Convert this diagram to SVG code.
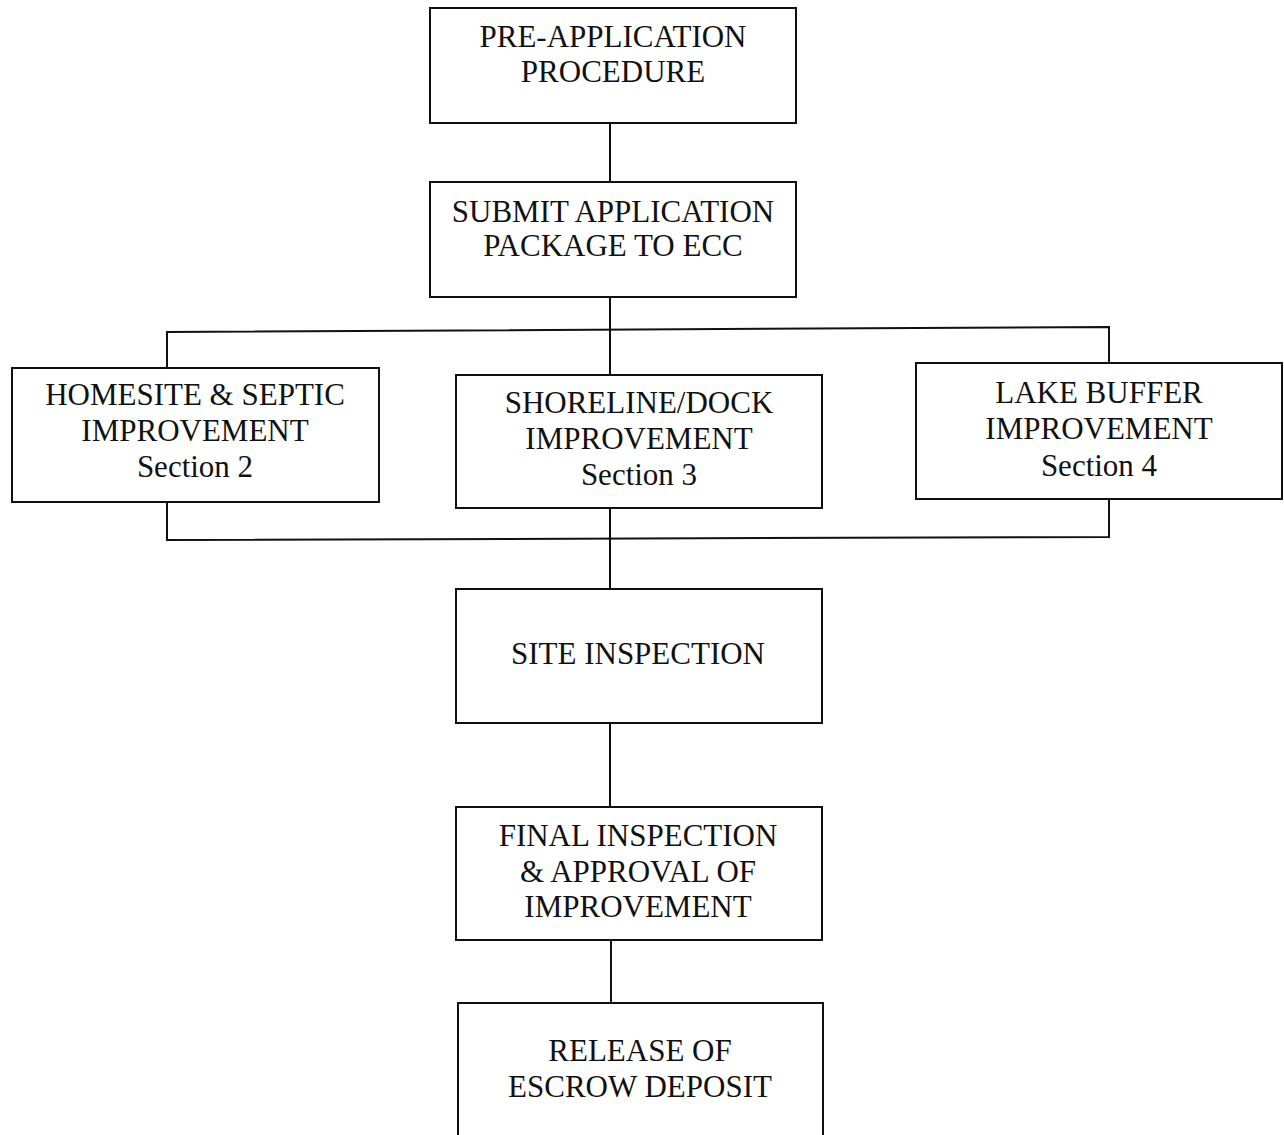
<svg xmlns="http://www.w3.org/2000/svg" width="1284" height="1135" viewBox="0 0 1284 1135">
<style>
.box{fill:#fff;stroke:#111;stroke-width:2}
.ln{fill:none;stroke:#111;stroke-width:2}
text{font-family:"Liberation Serif","Times New Roman",serif;font-size:31px;fill:#111;text-anchor:middle}
</style>
<rect width="1284" height="1135" fill="#fff"/>
<g id="connectors">
<line class="ln" x1="610" y1="123" x2="610" y2="181"/>
<line class="ln" x1="610" y1="297" x2="610" y2="375"/>
<polyline class="ln" points="167,368 167,332 1109,327 1109,363"/>
<polyline class="ln" points="167,502 167,540 1109,537 1109,499"/>
<line class="ln" x1="610" y1="508" x2="610" y2="589"/>
<line class="ln" x1="610" y1="723" x2="610" y2="807"/>
<line class="ln" x1="611" y1="940" x2="611" y2="1003"/>
</g>
<g id="pre-application">
<rect class="box" x="430" y="8" width="366" height="115"/>
<text x="613" y="47">PRE-APPLICATION</text>
<text x="613" y="82">PROCEDURE</text>
</g>
<g id="submit">
<rect class="box" x="430" y="182" width="366" height="115"/>
<text x="613" y="222">SUBMIT APPLICATION</text>
<text x="613" y="256">PACKAGE TO ECC</text>
</g>
<g id="homesite">
<rect class="box" x="12" y="368" width="367" height="134"/>
<text x="195" y="405">HOMESITE &amp; SEPTIC</text>
<text x="195" y="441">IMPROVEMENT</text>
<text x="195" y="477">Section 2</text>
</g>
<g id="shoreline">
<rect class="box" x="456" y="375" width="366" height="133"/>
<text x="639" y="413">SHORELINE/DOCK</text>
<text x="639" y="449">IMPROVEMENT</text>
<text x="639" y="485">Section 3</text>
</g>
<g id="lakebuffer">
<rect class="box" x="916" y="363" width="366" height="136"/>
<text x="1099" y="403">LAKE BUFFER</text>
<text x="1099" y="439">IMPROVEMENT</text>
<text x="1099" y="476">Section 4</text>
</g>
<g id="site-inspection">
<rect class="box" x="456" y="589" width="366" height="134"/>
<text x="638" y="664">SITE INSPECTION</text>
</g>
<g id="final-inspection">
<rect class="box" x="456" y="807" width="366" height="133"/>
<text x="638" y="846">FINAL INSPECTION</text>
<text x="638" y="882">&amp; APPROVAL OF</text>
<text x="638" y="917">IMPROVEMENT</text>
</g>
<g id="release">
<rect class="box" x="458" y="1003" width="365" height="140"/>
<text x="640" y="1061">RELEASE OF</text>
<text x="640" y="1097">ESCROW DEPOSIT</text>
</g>
</svg>
